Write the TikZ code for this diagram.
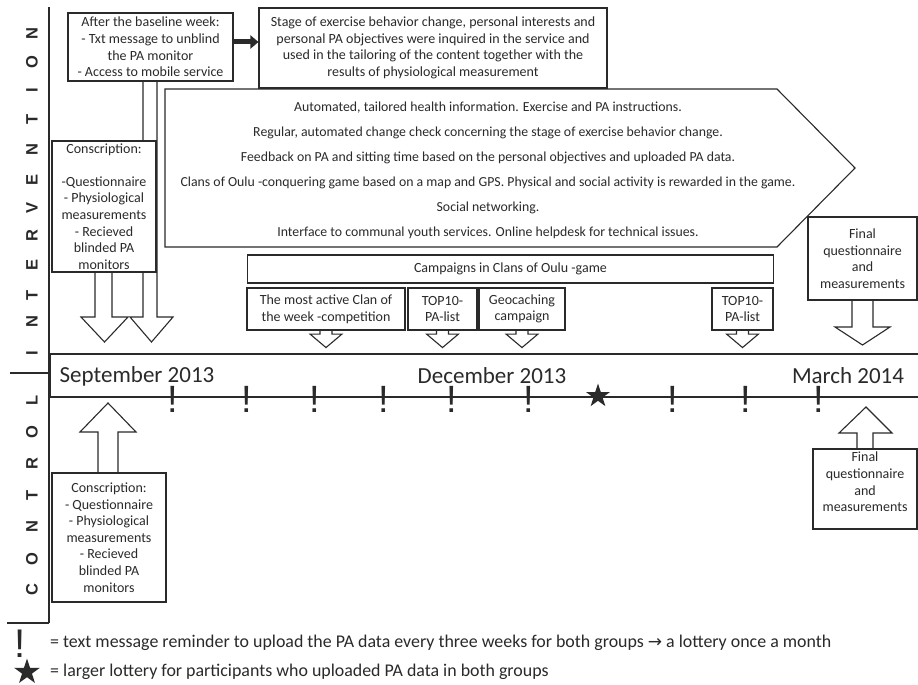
\documentclass[tikz,border=0pt]{standalone}
\usepackage{fontspec}
\setmainfont{Carlito}
\newfontfamily\lettersfont{Liberation Sans}
\newfontfamily\symfont{DejaVu Sans}
\usetikzlibrary{arrows.meta,shapes.geometric}
\definecolor{ink}{HTML}{2A2A2A}
\begin{document}
\begin{tikzpicture}[x=1pt,y=-1pt,
  every node/.style={text=ink},
  box/.style={draw=ink, line width=1.1pt, fill=white, inner sep=1pt, align=center, font=\fontsize{14}{16.6}\selectfont},
  txt/.style={inner sep=0pt, align=center, font=\fontsize{14}{16.6}\selectfont},
  blk/.style={draw=ink, line width=1.1pt, fill=white, line join=miter},
  lbl/.style={font=\lettersfont\bfseries\fontsize{16.5}{16.5}\selectfont, rotate=90, inner sep=0pt},
  excl/.style={font=\lettersfont\fontsize{38}{38}\selectfont, anchor=base, inner sep=0pt},
  starnode/.style={star, star points=5, star point ratio=2.6, fill=ink, draw=none, minimum size=#1, inner sep=0pt},
  datelbl/.style={font=\fontsize{23}{24}\selectfont, inner sep=0pt},
  legend/.style={font=\fontsize{17.9}{19}\selectfont, anchor=west, inner sep=0pt},
]
\useasboundingbox (0,0) rectangle (918,685);
\fill[white] (0,0) rectangle (918,685);

% left bar with group labels
\draw[ink, line width=1.3pt] (49,7) -- (49,623);
\draw[ink, line width=1.3pt] (10,373) -- (49,373);
\draw[ink, line width=1.3pt] (7,623) -- (49,623);
\foreach \l/\y [count=\i] in {I/353,N/322,T/295,E/265,R/236,V/208,E/180,N/150,T/119,I/90,O/62,N/34}
  \node[lbl] (int\i) at (32,\y) {\l};
\foreach \l/\y [count=\i] in {C/590,O/559,N/527,T/495,R/464,O/432,L/400}
  \node[lbl] (ctl\i) at (32,\y) {\l};

% block arrows drawn beneath boxes
\draw[blk] (143,81) -- (143,317) -- (130,317) -- (151.5,342) -- (173,317) -- (157,317) -- (157,81);
\draw[blk] (95,272) -- (95,317) -- (81,317) -- (104.5,342) -- (128,317) -- (112,317) -- (112,272);
\draw[blk] (852,300) -- (852,327) -- (835,327) -- (862.5,345) -- (890,327) -- (873,327) -- (873,300);
\draw[blk] (98,473) -- (98,432) -- (80,432) -- (108,403) -- (136,432) -- (118,432) -- (118,473);
\draw[blk] (857,449) -- (857,433) -- (839,433) -- (866,407) -- (892,433) -- (873,433) -- (873,449);

% timeline
\draw[ink, line width=2.2pt] (925,354) -- (50,354) -- (50,397) -- (925,397);
\node[datelbl] (sep) at (137,376) {September 2013};
\node[datelbl] (dec) at (492,376) {December 2013};
\node[datelbl] (mar) at (848,376) {March 2014};
\foreach \x [count=\i] in {173,247,315,384,452,529,673,746,819}
  \node[excl] (ex\i) at (\x,412) {!};
\node[starnode=25pt] (bigstar) at (598,396) {};

% intervention boxes
\node[box, minimum width=165pt, minimum height=68pt] (after) at (150.5,47)
  {After the baseline week:\\- Txt message to unblind\\the PA monitor\\- Access to mobile service};
\node[box, minimum width=348pt, minimum height=80pt] (stage) at (433,48)
  {Stage of exercise behavior change, personal interests and\\personal PA objectives were inquired in the service and\\used in the tailoring of the content together with the\\results of physiological measurement};
\draw[ink, line width=5pt, -{Triangle[length=8pt,width=13pt]}]
  ([yshift=5pt]after.east) -- ([yshift=5pt]after.east -| stage.west);
\node[box, minimum width=104pt, minimum height=131pt] (consi) at (104,206.5)
  {Conscription:\\[16.6pt]-Questionnaire\\- Physiological\\measurements\\- Recieved\\blinded PA\\monitors};

\draw[blk] (165,89) -- (777,89) -- (855,168) -- (777,247) -- (165,247) -- cycle;
\node[inner sep=0pt, align=center, font=\fontsize{13.8}{25}\selectfont] (info) at (488,170.5)
  {Automated, tailored health information. Exercise and PA instructions.\\
   Regular, automated  change check concerning the stage of exercise behavior change.\\
   Feedback on PA and sitting time based on the personal objectives and uploaded PA data.\\
   Clans of Oulu -conquering game based on a map and GPS. Physical and social activity is rewarded in the game.\\
   Social networking.\\
   Interface to communal youth services. Online helpdesk for technical issues.};

\node[box, minimum width=526pt, minimum height=28pt] (camp) at (510.5,269) {Campaigns in Clans of Oulu -game};
\node[box, minimum width=158pt, minimum height=42pt] (c1) at (326,309) {The most active Clan of\\the week -competition};
\node[box, minimum width=69pt, minimum height=42pt] (c2) at (442.5,309) {TOP10-\\PA-list};
\node[box, minimum width=86pt, minimum height=42pt] (c3) at (522,309) {Geocaching\\campaign};
\node[box, minimum width=61pt, minimum height=42pt] (c4) at (742.5,309) {TOP10-\\PA-list};
\foreach \n in {c1,c2,c3,c4}
  \draw[blk] ([xshift=-6pt,yshift=-0.5pt]\n.south) -- ++(0,3) -- ++(-10,0)
    -- ([yshift=-17pt]\n.south) -- ([xshift=16pt,yshift=-3.5pt]\n.south) -- ++(-10,0)
    -- ([xshift=6pt,yshift=-0.5pt]\n.south);

\node[box, minimum width=109pt, minimum height=83pt] (finali) at (862.5,258.5)
  {Final\\questionnaire\\and\\measurements};

% control boxes
\node[box, minimum width=114pt, minimum height=129pt] (consc) at (109,537.5)
  {Conscription:\\- Questionnaire\\- Physiological\\measurements\\- Recieved\\blinded PA\\monitors};
\node[box, minimum width=104pt, minimum height=80pt] (finalc) at (865,489) {};
\node[txt] (finalctxt) at (865,482) {Final\\questionnaire\\and\\measurements};

% legend
\node[font=\lettersfont\fontsize{40}{40}\selectfont, anchor=base, inner sep=0pt] (legex) at (20,657) {!};
\node[starnode=27pt] (legstar) at (27,672) {};
\node[legend] (leg1) at (50,643) {= text message reminder to upload the PA data every three weeks for both groups {\symfont\fontsize{17}{17}\selectfont →} a lottery once a month};
\node[legend] (leg2) at (50,672) {= larger lottery for participants who uploaded PA data in both groups};
\end{tikzpicture}
\end{document}
